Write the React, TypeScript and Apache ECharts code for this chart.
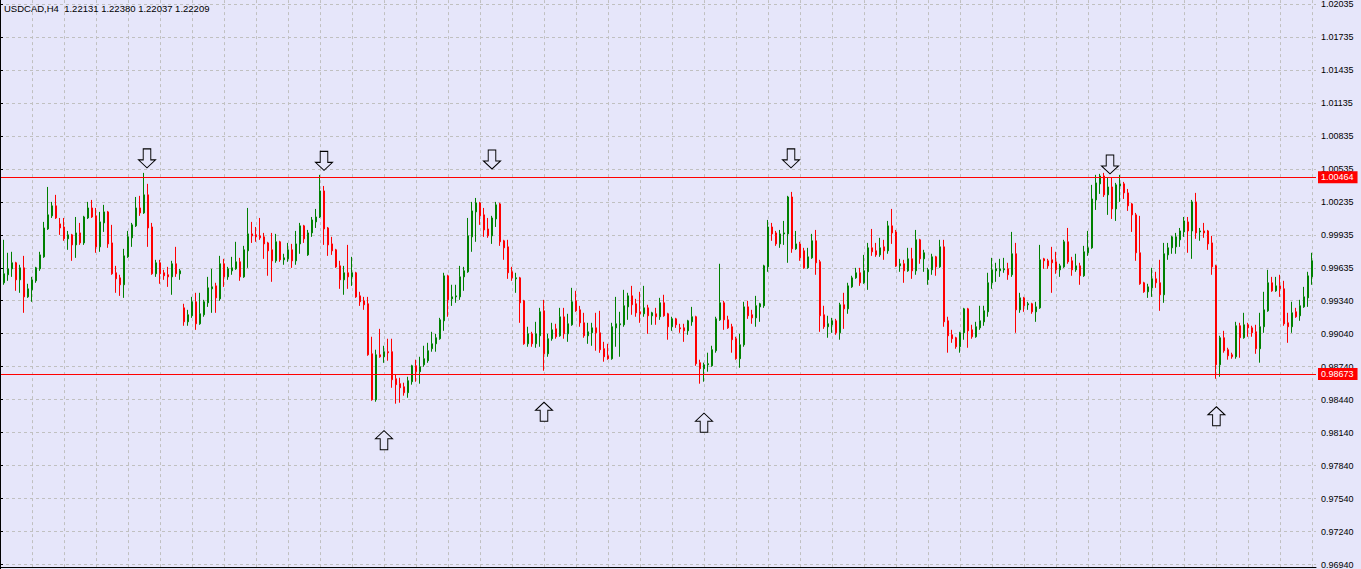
import React, { useEffect, useRef } from "react";
import * as echarts from "echarts";

const titleText = "USDCAD,H4  1.22131 1.22380 1.22037 1.22209";

const opens = [
  0.99503,0.99503,0.99576,0.99630,0.99685,0.99530,0.99639,0.99375,0.99439,0.99521,
  0.99630,0.99739,0.99993,1.00112,1.00203,1.00039,1.00011,0.99903,0.99939,0.99848,
  0.99957,0.99866,1.00093,1.00184,1.00112,0.99830,1.00048,1.00148,0.99866,0.99594,
  0.99548,0.99485,0.99739,0.99912,1.00021,1.00184,1.00139,1.00303,1.00011,0.99585,
  0.99685,0.99594,0.99576,0.99557,0.99676,0.99585,0.99275,0.99148,0.99203,0.99330,
  0.99130,0.99212,0.99321,0.99448,0.99475,0.99357,0.99676,0.99557,0.99612,0.99630,
  0.99694,0.99557,0.99794,0.99948,0.99939,0.99930,0.99921,0.99866,0.99803,0.99703,
  0.99876,0.99712,0.99721,0.99803,0.99703,0.99857,1.00021,0.99757,0.99957,1.00057,
  1.00102,1.00339,1.00002,0.99857,0.99803,0.99657,0.99530,0.99594,0.99557,0.99594,
  0.99384,0.99339,0.99312,0.98857,0.98439,0.98848,0.98830,0.98876,0.98876,0.98630,
  0.98585,0.98557,0.98503,0.98603,0.98748,0.98694,0.98757,0.98794,0.98903,0.98948,
  0.98994,0.99157,0.99566,0.99357,0.99375,0.99375,0.99557,0.99603,0.99921,1.00148,
  1.00230,1.00121,0.99993,0.99930,1.00084,1.00221,0.99885,0.99830,0.99603,0.99539,
  0.99548,0.99339,0.98948,0.99039,0.98948,0.99021,0.99248,0.98857,0.98994,0.99084,
  0.99021,0.99193,0.99039,0.99121,0.99339,0.99257,0.99139,0.99021,0.99048,0.99093,
  0.99048,0.98903,0.98839,0.98812,0.99093,0.99121,0.99121,0.99284,0.99384,0.99312,
  0.99239,0.99221,0.99275,0.99203,0.99221,0.99194,0.99321,0.99221,0.99103,0.99175,
  0.99093,0.99093,0.99066,0.99148,0.99194,0.98776,0.98721,0.98757,0.98748,0.98885,
  0.99166,0.99321,0.99166,0.99103,0.98994,0.98812,0.98939,0.99284,0.99212,0.99184,
  0.99284,0.99294,0.99648,1.00011,0.99957,0.99857,0.99948,0.99948,1.00284,0.99812,
  0.99857,0.99794,0.99639,0.99730,0.99885,0.99694,0.99212,0.99103,0.99121,0.99157,
  0.99048,0.99303,0.99266,0.99466,0.99548,0.99594,0.99503,0.99603,0.99821,0.99794,
  0.99757,0.99830,0.99794,1.00021,0.99966,0.99657,0.99676,0.99612,0.99721,0.99612,
  0.99894,0.99721,0.99530,0.99621,0.99739,0.99648,0.99830,0.99157,0.99030,0.99003,
  0.98921,0.99048,0.99266,0.99075,0.99012,0.99093,0.99148,0.99239,0.99503,0.99612,
  0.99612,0.99621,0.99630,0.99576,0.99767,0.99257,0.99366,0.99303,0.99312,0.99239,
  0.99275,0.99721,0.99703,0.99712,0.99694,0.99621,0.99648,0.99876,0.99703,0.99621,
  0.99657,0.99567,0.99776,0.99821,1.00257,1.00403,1.00475,1.00303,1.00375,1.00175,
  1.00384,1.00403,1.00321,1.00221,1.00121,0.99776,0.99503,0.99421,0.99457,0.99539,
  0.99503,0.99394,0.99757,0.99821,0.99830,0.99894,0.99966,1.00057,0.99975,1.00239,
  0.99966,0.99975,0.99975,0.99866,0.99657,0.98757,0.99003,0.98894,0.98848,0.98830,
  0.99112,0.99003,0.99121,0.99093,0.99057,0.98903,0.99103,0.99248,0.99503,0.99430,
  0.99475,0.99448,0.99139,0.99103,0.99239,0.99203,0.99284,0.99366,0.99557
];

const closes = [
  0.99512,0.99585,0.99630,0.99685,0.99530,0.99639,0.99375,0.99448,0.99530,0.99639,
  0.99757,1.00002,1.00121,1.00203,1.00093,1.00002,0.99903,0.99939,0.99848,0.99957,
  0.99866,1.00102,1.00184,1.00102,0.99830,1.00057,1.00148,0.99857,0.99585,0.99539,
  0.99485,0.99748,0.99921,1.00030,1.00184,1.00139,1.00303,1.00002,0.99585,0.99685,
  0.99585,0.99567,0.99557,0.99676,0.99585,0.99612,0.99148,0.99212,0.99330,0.99130,
  0.99221,0.99330,0.99457,0.99466,0.99366,0.99676,0.99557,0.99630,0.99639,0.99694,
  0.99557,0.99803,0.99948,0.99930,0.99921,0.99912,0.99857,0.99794,0.99703,0.99876,
  0.99712,0.99730,0.99803,0.99703,0.99857,1.00021,0.99903,0.99957,1.00075,1.00102,
  1.00339,0.99993,0.99848,0.99794,0.99648,0.99530,0.99594,0.99557,0.99594,0.99375,
  0.99330,0.99303,0.98848,0.98439,0.98848,0.98830,0.98876,0.98866,0.98621,0.98576,
  0.98548,0.98503,0.98612,0.98748,0.98694,0.98739,0.98812,0.98885,0.98948,0.99003,
  0.99166,0.99566,0.99348,0.99375,0.99384,0.99557,0.99612,0.99930,1.00157,1.00230,
  1.00112,0.99984,0.99930,1.00093,1.00212,0.99876,0.99821,0.99594,0.99548,0.99548,
  0.99321,0.98948,0.99039,0.98948,0.99039,0.99239,0.98857,0.98994,0.99075,0.99012,
  0.99193,0.99039,0.99130,0.99330,0.99248,0.99139,0.99021,0.99057,0.99093,0.99048,
  0.98894,0.98830,0.98812,0.99103,0.99130,0.99130,0.99294,0.99384,0.99303,0.99230,
  0.99221,0.99275,0.99203,0.99230,0.99194,0.99321,0.99203,0.99103,0.99175,0.99121,
  0.99084,0.99066,0.99157,0.99194,0.98767,0.98721,0.98757,0.98767,0.98894,0.99175,
  0.99321,0.99166,0.99093,0.98985,0.98812,0.98939,0.99284,0.99203,0.99184,0.99294,
  0.99312,0.99657,1.00011,0.99948,0.99857,0.99948,0.99957,1.00284,0.99812,0.99857,
  0.99730,0.99639,0.99739,0.99885,0.99685,0.99203,0.99103,0.99130,0.99157,0.99048,
  0.99303,0.99266,0.99475,0.99548,0.99594,0.99503,0.99612,0.99821,0.99785,0.99757,
  0.99821,0.99794,1.00021,0.99957,0.99657,0.99676,0.99612,0.99721,0.99612,0.99894,
  0.99721,0.99776,0.99621,0.99739,0.99648,0.99830,0.99148,0.99021,0.98994,0.98921,
  0.99048,0.99266,0.99066,0.99012,0.99103,0.99157,0.99248,0.99503,0.99621,0.99630,
  0.99630,0.99630,0.99576,0.99767,0.99257,0.99366,0.99294,0.99312,0.99239,0.99284,
  0.99712,0.99703,0.99657,0.99685,0.99621,0.99657,0.99876,0.99694,0.99621,0.99657,
  0.99567,0.99785,0.99821,1.00266,1.00412,1.00475,1.00303,1.00375,1.00175,1.00394,
  1.00403,1.00321,1.00203,1.00121,0.99776,0.99494,0.99421,0.99466,0.99539,0.99503,
  0.99394,0.99767,0.99821,0.99921,0.99921,0.99975,1.00066,0.99975,1.00239,0.99957,
  0.99975,0.99957,0.99857,0.99648,0.98757,0.99003,0.98885,0.98839,0.98830,0.99112,
  0.99003,0.99121,0.99093,0.99048,0.98903,0.99103,0.99257,0.99503,0.99430,0.99475,
  0.99448,0.99130,0.99103,0.99230,0.99194,0.99294,0.99375,0.99566,0.99703
];

const lows = [
  0.99494,0.99485,0.99521,0.99557,0.99430,0.99412,0.99230,0.99366,0.99330,0.99503,
  0.99612,0.99730,0.99984,1.00093,1.00084,0.99939,0.99885,0.99803,0.99703,0.99730,
  0.99848,0.99848,1.00084,1.00093,0.99776,0.99785,0.99966,0.99821,0.99576,0.99412,
  0.99384,0.99366,0.99730,0.99830,1.00011,1.00112,1.00130,0.99830,0.99576,0.99557,
  0.99494,0.99530,0.99466,0.99394,0.99557,0.99530,0.99112,0.99112,0.99184,0.99075,
  0.99121,0.99194,0.99284,0.99230,0.99230,0.99339,0.99466,0.99530,0.99576,0.99621,
  0.99521,0.99548,0.99639,0.99866,0.99876,0.99894,0.99721,0.99567,0.99512,0.99685,
  0.99694,0.99667,0.99694,0.99639,0.99667,0.99767,0.99866,0.99748,0.99921,1.00002,
  1.00093,0.99848,0.99748,0.99757,0.99639,0.99448,0.99394,0.99448,0.99475,0.99366,
  0.99293,0.99257,0.98839,0.98430,0.98421,0.98821,0.98775,0.98794,0.98548,0.98403,
  0.98412,0.98476,0.98457,0.98576,0.98603,0.98585,0.98739,0.98775,0.98876,0.98876,
  0.98985,0.99066,0.99194,0.99293,0.99321,0.99348,0.99430,0.99594,0.99785,0.99876,
  1.00030,0.99921,0.99912,0.99857,1.00011,0.99839,0.99712,0.99539,0.99521,0.99412,
  0.99139,0.98939,0.98921,0.98921,0.98912,0.98921,0.98703,0.98830,0.98976,0.98994,
  0.99012,0.98994,0.98966,0.99112,0.99239,0.99103,0.99003,0.98948,0.98930,0.98885,
  0.98866,0.98785,0.98803,0.98803,0.98921,0.98830,0.99103,0.99166,0.99212,0.99194,
  0.99139,0.99194,0.99039,0.99121,0.99121,0.99166,0.99194,0.98985,0.99066,0.99093,
  0.99048,0.98966,0.99030,0.99112,0.98748,0.98585,0.98603,0.98694,0.98739,0.98867,
  0.99157,0.99075,0.99084,0.98867,0.98803,0.98730,0.98921,0.99175,0.99130,0.99103,
  0.99148,0.99275,0.99603,0.99885,0.99839,0.99821,0.99848,0.99685,0.99776,0.99803,
  0.99703,0.99630,0.99630,0.99721,0.99576,0.99057,0.99084,0.99003,0.99048,0.99030,
  0.98985,0.99084,0.99221,0.99457,0.99539,0.99475,0.99494,0.99439,0.99748,0.99739,
  0.99739,0.99712,0.99767,0.99857,0.99648,0.99603,0.99503,0.99603,0.99539,0.99576,
  0.99676,0.99603,0.99485,0.99576,0.99567,0.99639,0.99103,0.98867,0.98957,0.98903,
  0.98867,0.98985,0.98912,0.98994,0.99003,0.99075,0.99112,0.99194,0.99448,0.99512,
  0.99557,0.99594,0.99530,0.99557,0.99048,0.99230,0.99239,0.99257,0.99221,0.99148,
  0.99266,0.99630,0.99630,0.99412,0.99585,0.99557,0.99639,0.99676,0.99567,0.99603,
  0.99485,0.99557,0.99748,0.99812,1.00166,1.00312,1.00284,1.00121,1.00084,1.00066,
  1.00239,1.00266,1.00157,0.99966,0.99703,0.99485,0.99412,0.99366,0.99375,0.99457,
  0.99248,0.99321,0.99712,0.99767,0.99767,0.99830,0.99921,0.99776,0.99721,0.99903,
  0.99885,0.99912,0.99803,0.99576,0.98630,0.98648,0.98867,0.98803,0.98812,0.98812,
  0.98821,0.98994,0.99012,0.99012,0.98857,0.98776,0.99048,0.99239,0.99421,0.99421,
  0.99375,0.99112,0.98957,0.99048,0.99184,0.99157,0.99275,0.99284,0.99485
];

const highs = [
  0.99521,0.99894,0.99776,0.99785,0.99694,0.99667,0.99748,0.99494,0.99557,0.99648,
  0.99785,1.00057,1.00375,1.00239,1.00303,1.00093,1.00093,0.99975,0.99948,1.00102,
  1.00048,1.00112,1.00239,1.00257,1.00184,1.00148,1.00212,1.00157,1.00030,0.99657,
  0.99576,0.99812,0.99975,1.00048,1.00284,1.00294,1.00503,1.00403,1.00048,0.99712,
  0.99712,0.99621,0.99648,0.99703,0.99830,0.99630,0.99312,0.99257,0.99375,0.99412,
  0.99412,0.99348,0.99557,0.99630,0.99503,0.99748,0.99721,0.99648,0.99739,0.99876,
  0.99730,0.99839,1.00184,1.00057,1.00011,1.00093,0.99957,0.99876,0.99957,0.99948,
  0.99885,0.99767,0.99866,0.99857,0.99975,1.00048,1.00030,0.99984,1.00102,1.00175,
  1.00485,1.00384,1.00011,0.99921,0.99812,0.99703,0.99657,0.99848,0.99739,0.99603,
  0.99421,0.99375,0.99375,0.99012,0.98894,0.99084,0.98930,0.98994,0.98994,0.98666,
  0.98639,0.98594,0.98648,0.98757,0.98803,0.98830,0.98930,0.98957,0.99057,0.99039,
  0.99184,0.99594,0.99576,0.99485,0.99485,0.99657,0.99648,1.00093,1.00239,1.00275,
  1.00239,1.00184,1.00093,1.00112,1.00239,1.00230,0.99894,0.99894,0.99648,0.99594,
  0.99557,0.99348,0.99103,0.99057,0.99148,0.99275,0.99348,0.99039,0.99139,0.99130,
  0.99275,0.99275,0.99221,0.99457,0.99430,0.99293,0.99230,0.99139,0.99139,0.99230,
  0.99248,0.98966,0.98948,0.99139,0.99375,0.99239,0.99439,0.99412,0.99475,0.99357,
  0.99421,0.99475,0.99303,0.99239,0.99275,0.99366,0.99394,0.99230,0.99194,0.99184,
  0.99130,0.99130,0.99166,0.99284,0.99203,0.98803,0.98776,0.98867,0.98930,0.99194,
  0.99676,0.99339,0.99203,0.99130,0.99012,0.99039,0.99330,0.99339,0.99257,0.99384,
  0.99321,0.99667,1.00075,1.00048,0.99975,0.99984,1.00066,1.00294,1.00330,0.99975,
  0.99876,0.99821,0.99821,0.99948,0.99984,0.99712,0.99294,0.99203,0.99184,0.99175,
  0.99321,0.99412,0.99503,0.99567,0.99639,0.99639,0.99757,0.99866,0.99993,0.99866,
  0.99912,0.99894,1.00066,1.00175,0.99984,0.99721,0.99712,0.99821,0.99821,0.99984,
  0.99903,0.99803,0.99639,0.99767,0.99748,0.99894,0.99894,0.99194,0.99075,0.99012,
  0.99057,0.99275,0.99275,0.99121,0.99148,0.99294,0.99294,0.99594,0.99730,0.99685,
  0.99721,0.99730,0.99685,0.99966,0.99866,0.99412,0.99375,0.99330,0.99321,0.99330,
  0.99848,0.99730,0.99721,0.99830,0.99785,0.99676,0.99894,1.00002,0.99739,0.99767,
  0.99685,0.99839,0.99975,1.00394,1.00485,1.00494,1.00503,1.00457,1.00457,1.00412,
  1.00485,1.00421,1.00357,1.00230,1.00139,1.00112,0.99512,0.99494,0.99639,0.99603,
  0.99712,0.99866,0.99866,0.99930,0.99957,1.00002,1.00102,1.00102,1.00257,1.00321,
  1.00002,1.00048,0.99984,0.99930,0.99667,0.99021,0.99066,0.98912,0.98867,0.99148,
  0.99139,0.99230,0.99139,0.99112,0.99121,0.99230,0.99421,0.99621,0.99557,0.99557,
  0.99576,0.99521,0.99230,0.99330,0.99275,0.99348,0.99466,0.99603,0.99776
];

const yTicks = [
  1.02035, 1.01735, 1.01435, 1.01135, 1.00835, 1.00535, 1.00235, 0.99935, 0.99635,
  0.9934, 0.9904, 0.9874, 0.9844, 0.9814, 0.9784, 0.9754, 0.9724, 0.9694
];

const resistanceLevel = 1.00464;
const supportLevel = 0.98673;

// [bar position, price]
const downArrows = [
  [36.75, 1.00635],
  [81, 1.00612],
  [123, 1.00625],
  [197.75, 1.00635],
  [277.5, 1.0058]
];
const upArrows = [
  [96, 0.98071],
  [136, 0.9833],
  [176, 0.9823],
  [304.1, 0.98289]
];

const yMin = 0.96912;
const yMax = 1.02075;

const FONT = '"Liberation Sans", Arial, sans-serif';
const BG = "#e6e6fa";

export default function App() {
  const ref = useRef<HTMLDivElement>(null);

  useEffect(() => {
    if (!ref.current) return;
    const chart = echarts.init(ref.current, undefined, { renderer: "svg" });
    const categories = Array.from({ length: opens.length + 1 }, (_, i) => String(i));
    const candles = opens.map((o, i) => [o, closes[i], lows[i], highs[i]]);
    const lastIndex = categories.length - 1;

    const option: any = {
      animation: false,
      backgroundColor: BG,
      title: {
        text: titleText,
        left: 4,
        top: 3,
        padding: 0,
        textStyle: { fontSize: 9.5, fontWeight: "normal", color: "#000", fontFamily: FONT }
      },
      grid: { left: 0, right: 45, top: 0, bottom: 1, containLabel: false },
      xAxis: [
        {
          type: "category",
          data: categories,
          boundaryGap: false,
          axisLine: { show: true, lineStyle: { color: "#000", width: 1 } },
          axisTick: { show: false },
          axisLabel: { show: false },
          splitLine: {
            show: true,
            interval: 7,
            lineStyle: { color: "#c0c0c0", type: [3, 3], width: 1 }
          }
        },
        {
          type: "value",
          min: 0,
          max: lastIndex,
          show: false,
          splitLine: { show: false }
        }
      ],
      yAxis: {
        type: "value",
        position: "right",
        min: yMin,
        max: yMax,
        axisLine: { show: true, lineStyle: { color: "#000", width: 1 } },
        axisTick: {
          show: true,
          length: 3,
          customValues: yTicks,
          lineStyle: { color: "#000", width: 1 }
        },
        axisLabel: {
          customValues: yTicks,
          formatter: (v: number) => v.toFixed(5),
          color: "#000",
          fontSize: 9,
          fontFamily: FONT,
          margin: 5,
          showMinLabel: true,
          showMaxLabel: true
        },
        splitLine: { show: true, lineStyle: { color: "#c0c0c0", type: [3, 3], width: 1 } }
      },
      graphic: [
        {
          type: "line",
          shape: { x1: 0.5, y1: 0, x2: 0.5, y2: 569 },
          style: { stroke: "#000", lineWidth: 1 },
          z: 100
        }
      ],
      series: [
        {
          type: "candlestick",
          xAxisIndex: 0,
          yAxisIndex: 0,
          data: candles,
          barWidth: 2,
          itemStyle: {
            color: "#008000",
            color0: "#ff0000",
            borderColor: "#008000",
            borderColor0: "#ff0000",
            borderWidth: 1
          },
          markLine: {
            silent: true,
            precision: 5,
            symbol: ["none", "none"],
            lineStyle: { color: "#ff0000", type: "solid", width: 1 },
            label: {
              show: true,
              position: "end",
              distance: 2,
              formatter: (p: any) => Number(p.value).toFixed(5),
              color: "#fff",
              backgroundColor: "#ff0000",
              padding: [2, 4, 1, 3],
              fontSize: 9,
              fontFamily: FONT
            },
            data: [{ yAxis: resistanceLevel }, { yAxis: supportLevel }]
          }
        },
        {
          type: "scatter",
          xAxisIndex: 1,
          yAxisIndex: 0,
          data: downArrows,
          symbol: "path://M5,0L13,0L13,11L18,11L9,19L0,11L5,11Z",
          symbolSize: [17, 19],
          itemStyle: { color: BG, borderColor: "#000", borderWidth: 1, opacity: 1 },
          z: 10,
          silent: true
        },
        {
          type: "scatter",
          xAxisIndex: 1,
          yAxisIndex: 0,
          data: upArrows,
          symbol: "path://M9,0L18,8L13,8L13,19L5,19L5,8L0,8Z",
          symbolSize: [17, 19],
          itemStyle: { color: BG, borderColor: "#000", borderWidth: 1, opacity: 1 },
          z: 10,
          silent: true
        }
      ]
    };

    chart.setOption(option);
    return () => chart.dispose();
  }, []);

  return (
    <div
      ref={ref}
      style={{ position: "fixed", left: 0, top: 0, width: 1361, height: 569 }}
    />
  );
}
